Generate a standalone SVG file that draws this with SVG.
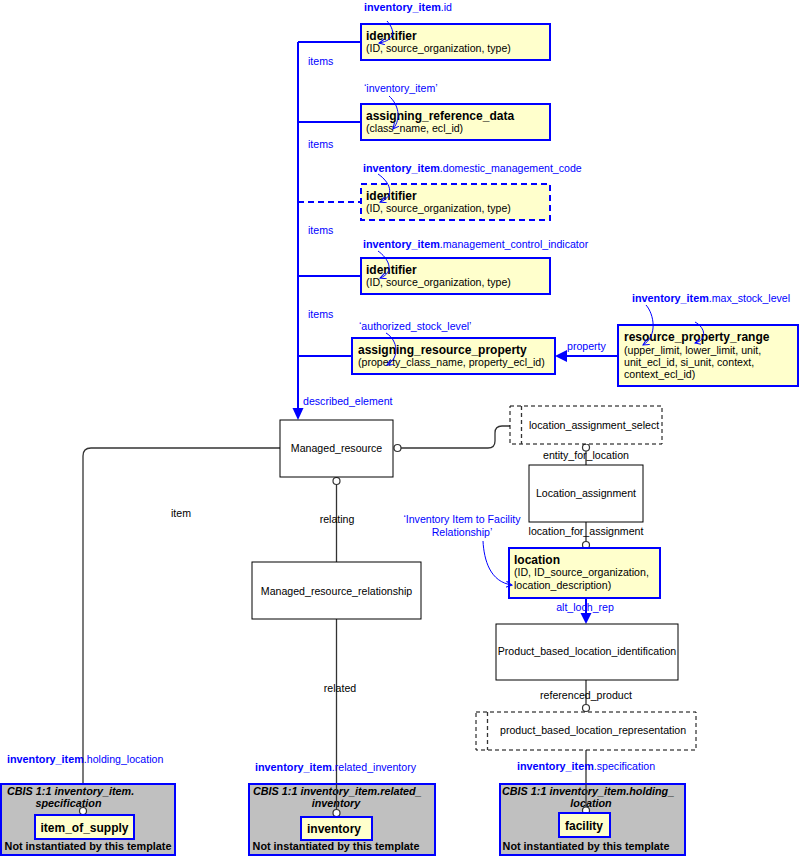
<svg xmlns="http://www.w3.org/2000/svg" width="799" height="857" viewBox="0 0 799 857">
<defs>
<style>
text{font-family:"Liberation Sans",Arial,sans-serif;font-size:10.6px;fill:#000}
.b{font-weight:bold;font-size:12px}
.bl{fill:#0000ff}
.bi{font-weight:bold;font-style:italic;font-size:10.8px}
.bb{font-weight:bold;font-size:10.8px}
.c{text-anchor:middle}
.y{fill:#ffffcc;stroke:#0000ff;stroke-width:2}
.yd{fill:#ffffcc;stroke:#0000ff;stroke-width:2;stroke-dasharray:6,4}
.e{fill:#fff;stroke:#000;stroke-width:1}
.d{fill:#fff;stroke:#000;stroke-width:1;stroke-dasharray:4,3}
.g{fill:#c0c0c0;stroke:#0000ff;stroke-width:2}
.k{fill:none;stroke:#333;stroke-width:1.3}
.bc{fill:none;stroke:#0000ff;stroke-width:2}
.an{fill:none;stroke:#0000ff;stroke-width:1;marker-end:url(#oa)}
.o{fill:#fff;stroke:#333;stroke-width:1.2}
.ah{fill:#0000ff;stroke:none}
</style>
<marker id="oa" markerWidth="8" markerHeight="8" refX="6" refY="3" orient="auto" markerUnits="userSpaceOnUse">
<path d="M0,0 L6,3 L0,6" fill="none" stroke="#0000ff" stroke-width="1"/>
</marker>
</defs>

<g id="connectors">
<path class="bc" d="M298,42 V410"/>
<path class="bc" d="M298,42 H361"/>
<path class="bc" d="M298,122 H361"/>
<path class="bc" d="M298,202 H361" stroke-dasharray="6,4"/>
<path class="bc" d="M298,276 H361"/>
<path class="bc" d="M298,356 H352"/>
<path class="ah" d="M298,420 L292.5,408 L303.5,408 Z"/>
<path class="bc" d="M618,356 H565"/>
<path class="ah" d="M555,356 L567,350 L567,362 Z"/>
<path class="bc" d="M586,598 V614"/>
<path class="ah" d="M586,624 L580.5,613 L591.5,613 Z"/>
<path class="k" d="M280,448 H91 Q83,448 83,456 V807.5"/>
<path class="k" d="M401,448 H488 Q495,448 495,441 V433 Q495,426 502,426 H510"/>
<path class="k" d="M336.5,484.5 V562"/>
<path class="k" d="M336.5,619 V809.5"/>
<path class="k" d="M586,451 V465"/>
<path class="k" d="M586,522 V541.5"/>
<path class="k" d="M586,680 V704.5"/>
<path class="k" d="M586,750 V807"/>
<circle class="o" cx="397.5" cy="448" r="3.5"/>
<circle class="o" cx="336.5" cy="481" r="3.5"/>
<circle class="o" cx="586" cy="447.5" r="3.5"/>
<circle class="o" cx="586" cy="545" r="3.5"/>
<circle class="o" cx="586" cy="708" r="3.5"/>
<circle class="o" cx="83" cy="811" r="3.5"/>
<circle class="o" cx="336.5" cy="813" r="3.5"/>
<circle class="o" cx="586" cy="810.5" r="3.5"/>
<text class="bl" x="308" y="65">items</text>
<text class="bl" x="308" y="148">items</text>
<text class="bl" x="308" y="234">items</text>
<text class="bl" x="308" y="318">items</text>
<text class="bl" x="303" y="405">described_element</text>
<text class="bl" x="567" y="350">property</text>
<text class="bl c" x="585" y="611">alt_loch_rep</text>
<text class="c" x="586" y="459">entity_for_location</text>
<text class="c" x="586" y="535">location_for_assignment</text>
<text class="c" x="337" y="523">relating</text>
<text class="c" x="340" y="692">related</text>
<text class="c" x="181" y="517">item</text>
<text class="c" x="586" y="699">referenced_product</text>
</g>

<g id="n_identifier1">
<rect class="y" x="361" y="24" width="189" height="36"/>
<text class="b" x="366" y="40">identifier</text>
<text x="366" y="52">(ID, source_organization, type)</text>
<text class="bl" x="364" y="11"><tspan class="bb">inventory_item</tspan>.id</text>
<path class="an" d="M387,21 C395,30 396,40 379,43"/>
</g>

<g id="n_assigning_reference_data">
<rect class="y" x="361" y="104" width="189" height="36"/>
<text class="b" x="366" y="120">assigning_reference_data</text>
<text x="366" y="132">(class_name, ecl_id)</text>
<text class="bl" x="364" y="92">‘inventory_item’</text>
<path class="an" d="M389,96 C398,104 402,118 393,129"/>
</g>

<g id="n_identifier2">
<rect class="yd" x="361" y="184" width="189" height="36"/>
<text class="b" x="366" y="200">identifier</text>
<text x="366" y="212">(ID, source_organization, type)</text>
<text class="bl" x="363" y="172"><tspan class="bb">inventory_item</tspan>.domestic_management_code</text>
<path class="an" d="M378,174 C390,182 396,196 380,202"/>
</g>

<g id="n_identifier3">
<rect class="y" x="361" y="258" width="189" height="36"/>
<text class="b" x="366" y="274">identifier</text>
<text x="366" y="286">(ID, source_organization, type)</text>
<text class="bl" x="363" y="248"><tspan class="bb">inventory_item</tspan>.management_control_indicator</text>
<path class="an" d="M378,251 C388,258 396,272 380,278"/>
</g>

<g id="n_assigning_resource_property">
<rect class="y" x="352" y="338" width="203" height="36"/>
<text class="b" x="358" y="354">assigning_resource_property</text>
<text x="358" y="366">(property_class_name, property_ecl_id)</text>
<text class="bl" x="359" y="330">‘authorized_stock_level’</text>
<path class="an" d="M386,333 C398,340 400,358 387,365"/>
</g>

<g id="n_resource_property_range">
<rect class="y" x="618" y="325" width="180" height="61"/>
<text class="b" x="624" y="341">resource_property_range</text>
<text x="624" y="354">(upper_limit, lower_limit, unit,</text>
<text x="624" y="366">unit_ecl_id, si_unit, context,</text>
<text x="624" y="378">context_ecl_id)</text>
<text class="bl" x="632" y="302"><tspan class="bb">inventory_item</tspan>.max_stock_level</text>
<path class="an" d="M646,305 C654,314 658,336 643,345"/>
<path class="an" d="M695,322 C706,328 707,340 695,343"/>
</g>

<g id="n_Managed_resource">
<rect class="e" x="280" y="420" width="113" height="57"/>
<text class="c" x="336.5" y="452">Managed_resource</text>
</g>

<g id="n_location_assignment_select">
<rect class="d" x="510" y="406" width="152" height="38"/>
<path class="k" d="M521.5,406 V444" stroke-dasharray="4,3" stroke-width="1"/>
<text x="529" y="429">location_assignment_select</text>
</g>

<g id="n_Location_assignment">
<rect class="e" x="529" y="465" width="114" height="57"/>
<text class="c" x="586" y="497">Location_assignment</text>
</g>

<g id="n_location">
<rect class="y" x="509" y="548" width="151" height="50"/>
<text class="b" x="514" y="564">location</text>
<text x="514" y="576">(ID, ID_source_organization,</text>
<text x="514" y="589">location_description)</text>
<text class="bl c" x="462" y="523">‘Inventory Item to Facility</text>
<text class="bl c" x="462" y="536">Relationship’</text>
<path class="an" d="M483,541 C484,560 490,582 512,585"/>
</g>

<g id="n_Managed_resource_relationship">
<rect class="e" x="252" y="562" width="169" height="57"/>
<text class="c" x="336.5" y="595">Managed_resource_relationship</text>
</g>

<g id="n_Product_based_location_identification">
<rect class="e" x="496" y="624" width="182" height="56"/>
<text class="c" x="587" y="655">Product_based_location_identification</text>
</g>

<g id="n_product_based_location_representation">
<rect class="d" x="476" y="712" width="220" height="38"/>
<path class="k" d="M487.5,712 V750" stroke-dasharray="4,3" stroke-width="1"/>
<text x="500" y="734">product_based_location_representation</text>
</g>

<g id="n_item_of_supply">
<text class="bl" x="7" y="763"><tspan class="bb">inventory_item</tspan>.holding_location</text>
<rect class="g" x="1" y="784" width="174" height="71"/>
<text class="bi" x="7" y="795">CBIS 1:1 inventory_item.</text>
<text class="bi c" x="68.5" y="807">specification</text>
<circle class="o" cx="83" cy="811" r="3.5"/>
<rect class="y" x="35" y="815" width="99" height="24"/>
<text class="b c" x="84.5" y="832">item_of_supply</text>
<text class="bb c" x="88" y="850">Not instantiated by this template</text>
</g>

<g id="n_inventory">
<text class="bl" x="255" y="771"><tspan class="bb">inventory_item</tspan>.related_inventory</text>
<rect class="g" x="249" y="784" width="186" height="71"/>
<text class="bi" x="253" y="795">CBIS 1:1 inventory_item.related_</text>
<text class="bi c" x="336" y="807">inventory</text>
<path class="k" d="M336.5,784 V809.5"/>
<circle class="o" cx="336.5" cy="813" r="3.5"/>
<rect class="y" x="301" y="817" width="71" height="23"/>
<text class="b c" x="334" y="833">inventory</text>
<text class="bb c" x="336" y="850">Not instantiated by this template</text>
</g>

<g id="n_facility">
<text class="bl" x="517" y="770"><tspan class="bb">inventory_item</tspan>.specification</text>
<rect class="g" x="500" y="784" width="185" height="71"/>
<text class="bi" x="502" y="795">CBIS 1:1 inventory_item.holding_</text>
<text class="bi c" x="591" y="807">location</text>
<path class="k" d="M586,784 V807"/>
<circle class="o" cx="586" cy="810.5" r="3.5"/>
<rect class="y" x="559" y="813" width="51" height="24"/>
<text class="b c" x="584" y="830">facility</text>
<text class="bb c" x="586" y="850">Not instantiated by this template</text>
</g>
</svg>
